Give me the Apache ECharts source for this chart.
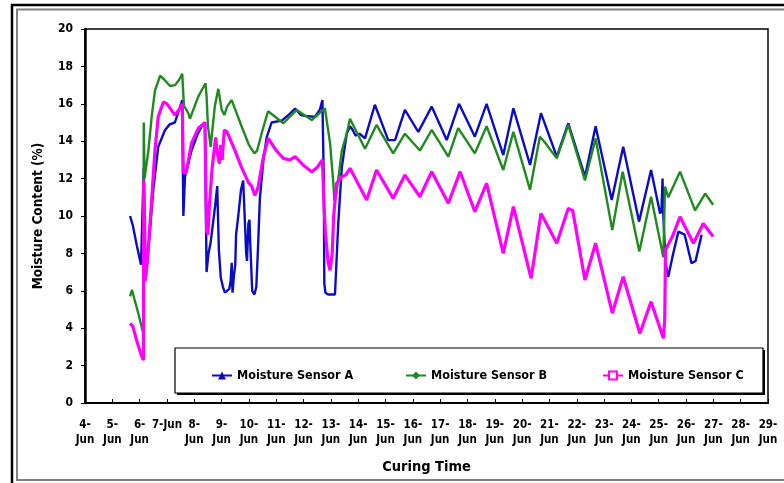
<!DOCTYPE html>
<html>
<head>
<meta charset="utf-8">
<script src="https://cdn.jsdelivr.net/npm/echarts@6/dist/echarts.min.js"></script>
<style>html,body{margin:0;padding:0;background:#fff;}#c{width:784px;height:483px;}</style>
</head>
<body>
<div id="c"></div>
<script>
// x values are days of June (decimal), y values are moisture content (%)
var xTickLabels = ['4-\nJun','5-\nJun','6-\nJun','7-Jun','8-\nJun','9-\nJun','10-\nJun','11-\nJun','12-\nJun','13-\nJun','14-\nJun','15-\nJun','16-\nJun','17-\nJun','18-\nJun','19-\nJun','20-\nJun','21-\nJun','22-\nJun','23-\nJun','24-\nJun','25-\nJun','26-\nJun','27-\nJun','28-\nJun','29-\nJun'];
var yTicks = [0, 2, 4, 6, 8, 10, 12, 14, 16, 18, 20];
var seriesNames = ['Moisture Sensor A', 'Moisture Sensor B', 'Moisture Sensor C'];

var sensorA = [[5.65,10.0],[5.75,9.5],[5.9,8.4],[6.05,7.4],[6.12,7.3],[6.15,12.6],[6.18,9.8],[6.22,7.4],[6.32,8.2],[6.5,11.4],[6.68,13.7],[6.93,14.6],[7.1,14.9],[7.29,15.0],[7.48,15.85],[7.56,16.2],[7.6,10.0],[7.66,12.1],[7.9,13.5],[8.1,14.3],[8.27,14.8],[8.39,15.0],[8.43,15.1],[8.45,7.0],[8.52,8.0],[8.6,8.6],[8.76,10.5],[8.84,11.6],[8.9,8.2],[8.97,6.7],[9.05,6.2],[9.12,5.9],[9.19,5.8],[9.28,6.1],[9.33,6.5],[9.37,7.5],[9.4,5.9],[9.45,6.8],[9.5,7.4],[9.53,9.0],[9.61,10.0],[9.71,11.4],[9.79,11.9],[9.86,12.0],[9.9,8.0],[9.93,7.6],[9.98,9.6],[10.02,9.8],[10.05,8.5],[10.12,6.0],[10.2,5.8],[10.27,6.2],[10.33,8.2],[10.4,10.9],[10.53,13.0],[10.65,14.2],[10.83,15.0],[11.2,15.1],[11.45,15.4],[11.69,15.75],[11.9,15.4],[12.1,15.35],[12.42,15.3],[12.6,15.7],[12.69,16.2],[12.74,12.0],[12.76,6.4],[12.8,5.9],[12.9,5.8],[13.15,5.8],[13.21,5.7],[13.27,9.6],[13.4,12.6],[13.58,14.4],[13.7,14.8],[13.8,14.6],[13.9,14.3],[14.05,14.4],[14.25,14.15],[14.61,15.95],[15.1,14.06],[15.35,14.06],[15.71,15.67],[16.2,14.5],[16.69,15.85],[17.24,14.06],[17.69,16.0],[18.27,14.24],[18.7,16.0],[19.31,13.26],[19.68,15.76],[20.29,12.73],[20.69,15.5],[21.27,13.17],[21.69,14.96],[22.3,12.1],[22.69,14.8],[23.28,10.86],[23.7,13.7],[24.28,9.7],[24.72,12.46],[25.05,10.14],[25.1,10.3],[25.14,12.0],[25.17,10.0],[25.25,7.5],[25.35,6.75],[25.5,7.8],[25.72,9.16],[25.95,9.0],[26.2,7.47],[26.35,7.6],[26.57,9.0]];

var sensorB = [[5.65,5.7],[5.72,6.05],[5.8,5.6],[5.95,4.8],[6.1,3.9],[6.14,3.72],[6.15,15.0],[6.18,12.0],[6.22,12.1],[6.32,13.5],[6.44,15.3],[6.56,16.7],[6.75,17.5],[6.9,17.3],[7.11,16.95],[7.3,17.0],[7.45,17.3],[7.56,17.6],[7.62,15.9],[7.78,15.5],[7.84,15.2],[8.15,16.4],[8.41,17.1],[8.45,16.4],[8.5,14.8],[8.6,13.7],[8.75,15.85],[8.88,16.8],[9.0,15.7],[9.1,15.4],[9.2,15.85],[9.37,16.2],[9.73,14.8],[10.0,13.8],[10.2,13.35],[10.3,13.5],[10.5,14.6],[10.7,15.6],[11.26,14.96],[11.75,15.67],[12.3,15.13],[12.78,15.76],[12.97,13.9],[13.09,11.75],[13.13,10.8],[13.2,11.2],[13.3,12.3],[13.4,13.5],[13.58,14.4],[13.7,15.2],[14.25,13.6],[14.67,14.87],[15.28,13.35],[15.71,14.4],[16.26,13.5],[16.69,14.6],[17.3,13.17],[17.66,14.7],[18.27,13.35],[18.7,14.8],[19.31,12.46],[19.68,14.5],[20.29,11.4],[20.65,14.24],[20.8,14.0],[21.27,13.08],[21.69,14.87],[22.3,11.9],[22.69,14.15],[23.3,9.25],[23.68,12.37],[24.29,8.1],[24.72,11.03],[25.17,7.8],[25.23,11.57],[25.35,11.0],[25.78,12.37],[26.33,10.3],[26.7,11.2],[26.99,10.6]];

var sensorC = [[5.65,4.26],[5.75,4.1],[5.9,3.3],[6.05,2.6],[6.14,2.3],[6.15,11.9],[6.18,9.8],[6.2,6.5],[6.28,7.5],[6.44,10.86],[6.56,13.5],[6.68,15.3],[6.87,16.1],[7.0,16.0],[7.29,15.4],[7.48,15.76],[7.56,16.0],[7.6,12.3],[7.7,12.3],[7.9,13.9],[8.15,14.7],[8.39,15.0],[8.45,9.2],[8.5,9.0],[8.55,10.5],[8.65,12.5],[8.78,14.2],[8.85,13.3],[8.92,12.8],[8.97,13.8],[9.02,13.0],[9.1,14.6],[9.2,14.5],[9.49,13.5],[9.73,12.6],[9.98,11.8],[10.1,11.6],[10.22,11.1],[10.33,11.5],[10.53,13.17],[10.71,14.15],[11.0,13.5],[11.26,13.08],[11.5,13.0],[11.69,13.17],[12.0,12.7],[12.3,12.37],[12.5,12.6],[12.69,13.0],[12.74,10.86],[12.8,9.07],[12.9,7.5],[12.97,7.1],[13.05,8.0],[13.1,9.96],[13.21,11.75],[13.4,12.1],[13.55,12.2],[13.7,12.55],[14.31,10.86],[14.67,12.46],[15.28,10.94],[15.71,12.19],[16.26,11.03],[16.69,12.37],[17.3,10.68],[17.73,12.37],[18.27,10.23],[18.7,11.75],[19.31,8.0],[19.68,10.5],[20.33,6.67],[20.69,10.14],[20.85,9.7],[21.27,8.54],[21.69,10.41],[21.85,10.3],[22.3,6.58],[22.69,8.54],[23.3,4.8],[23.7,6.75],[24.31,3.72],[24.72,5.42],[25.17,3.46],[25.22,4.5],[25.25,8.2],[25.5,8.9],[25.78,9.96],[26.27,8.54],[26.63,9.6],[26.99,8.9]];

var FONT = "'Liberation Sans Narrow', 'DejaVu Sans Condensed', 'Arial Narrow', sans-serif";
var chart = echarts.init(document.getElementById('c'), null, {renderer: 'canvas'});
var legendText = {fontFamily: FONT, fontWeight: 'bold', fontSize: 12.5, color: '#000'};
function mkLegend(name, left) {
  return {data: [name], left: left, top: 364, itemWidth: 20, itemHeight: 10, itemGap: 4, textStyle: legendText, z: 6};
}
chart.setOption({
  animation: false,
  backgroundColor: '#fff',
  graphic: [
    {type: 'rect', shape: {x: 12, y: 5, width: 900, height: 600}, style: {fill: null, stroke: '#000', lineWidth: 2.5}, z: 10, silent: true},
    {type: 'rect', shape: {x: 17, y: 9.5, width: 900, height: 470.5}, style: {fill: null, stroke: '#808080', lineWidth: 2}, z: 10, silent: true},
    {type: 'rect', shape: {x: 177, y: 350, width: 588, height: 45}, style: {fill: '#000'}, z: 3, silent: true},
    {type: 'rect', shape: {x: 175, y: 348, width: 588, height: 45}, style: {fill: '#fff', stroke: '#000', lineWidth: 1.2}, z: 3, silent: true}
  ],
  legend: [mkLegend(seriesNames[0], 206), mkLegend(seriesNames[1], 400), mkLegend(seriesNames[2], 597)],
  grid: {left: 85, top: 29, right: 16, bottom: 80, show: true, borderColor: '#000', borderWidth: 1.5, backgroundColor: 'transparent'},
  xAxis: {
    type: 'value', min: 4, max: 29, interval: 1,
    name: 'Curing Time', nameLocation: 'middle', nameGap: 57,
    nameTextStyle: {fontFamily: FONT, fontWeight: 'bold', fontSize: 14.5, color: '#000'},
    axisLine: {lineStyle: {color: '#000', width: 2}},
    axisTick: {inside: true, length: 4, lineStyle: {color: '#000', width: 1}},
    splitLine: {show: false},
    axisLabel: {
      margin: 15, color: '#000', fontFamily: FONT, fontWeight: 'bold', fontSize: 11.5, lineHeight: 15,
      formatter: function (v) { return xTickLabels[Math.round(v - 4)]; }
    }
  },
  yAxis: {
    type: 'value', min: 0, max: 20, interval: 2,
    name: 'Moisture Content (%)', nameLocation: 'middle', nameGap: 40, nameRotate: 90,
    nameTextStyle: {fontFamily: FONT, fontWeight: 'bold', fontSize: 13.5, color: '#000'},
    axisLine: {show: true, lineStyle: {color: '#000', width: 2.5}},
    axisTick: {show: true, inside: false, length: 4, lineStyle: {color: '#000'}},
    splitLine: {show: false},
    axisLabel: {margin: 12, color: '#000', fontFamily: FONT, fontWeight: 'bold', fontSize: 12,
      formatter: function (v) { return yTicks.indexOf(v) >= 0 ? String(v) : ''; }}
  },
  series: [
    {name: seriesNames[0], type: 'line', data: sensorA, showSymbol: false, symbol: 'triangle', symbolSize: 6,
      lineStyle: {color: '#0c0cc4', width: 2.4}, itemStyle: {color: '#0c0cc4'}, z: 2},
    {name: seriesNames[1], type: 'line', data: sensorB, showSymbol: false, symbol: 'diamond', symbolSize: 5,
      lineStyle: {color: '#1f8a1f', width: 2.4}, itemStyle: {color: '#1f8a1f'}, z: 2},
    {name: seriesNames[2], type: 'line', data: sensorC, showSymbol: false, symbol: 'emptyRect', symbolSize: 5,
      lineStyle: {color: '#ff00ff', width: 3.2}, itemStyle: {color: '#ff00ff'}, z: 2}
  ]
});
</script>
</body>
</html>
